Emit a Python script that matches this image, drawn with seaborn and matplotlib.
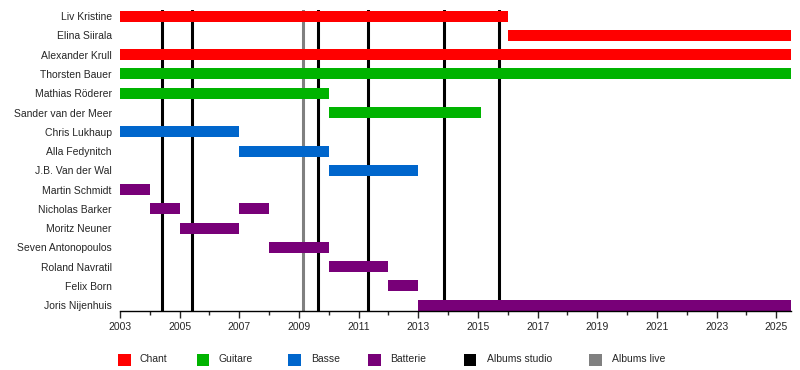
import matplotlib
matplotlib.use("Agg")
import matplotlib.pyplot as plt
import seaborn as sns
from matplotlib.patches import Rectangle

# Members in display order (top to bottom)
members = ["Liv Kristine", "Elina Siirala", "Alexander Krull", "Thorsten Bauer",
           "Mathias Röderer", "Sander van der Meer", "Chris Lukhaup", "Alla Fedynitch",
           "J.B. Van der Wal", "Martin Schmidt", "Nicholas Barker", "Moritz Neuner",
           "Seven Antonopoulos", "Roland Navratil", "Felix Born", "Joris Nijenhuis"]

# Membership periods (one entry per bar)
seg_member = ["Liv Kristine", "Elina Siirala", "Alexander Krull", "Thorsten Bauer",
              "Mathias Röderer", "Sander van der Meer", "Chris Lukhaup", "Alla Fedynitch",
              "J.B. Van der Wal", "Martin Schmidt", "Nicholas Barker", "Nicholas Barker",
              "Moritz Neuner", "Seven Antonopoulos", "Roland Navratil", "Felix Born",
              "Joris Nijenhuis"]
seg_start = [2003.0, 2016.0, 2003.0, 2003.0, 2003.0, 2010.0, 2003.0, 2007.0, 2010.0,
             2003.0, 2004.0, 2007.0, 2005.0, 2008.0, 2010.0, 2012.0, 2013.0]
seg_end = [2016.0, 2025.5, 2025.5, 2025.5, 2010.0, 2015.1, 2007.0, 2010.0, 2013.0,
           2004.0, 2005.0, 2008.0, 2007.0, 2010.0, 2012.0, 2013.0, 2025.5]
seg_role = ["Chant", "Chant", "Chant", "Guitare", "Guitare", "Guitare", "Basse", "Basse",
            "Basse", "Batterie", "Batterie", "Batterie", "Batterie", "Batterie", "Batterie",
            "Batterie", "Batterie"]

# Album releases
studio_albums = [2004.40, 2005.41, 2009.65, 2011.30, 2013.85, 2015.69]
live_albums = [2009.15]

role_colors = {"Chant": "#ff0000", "Guitare": "#00b300", "Basse": "#0066cc",
               "Batterie": "#780078"}

# Legend entries
legend_labels = ["Chant", "Guitare", "Basse", "Batterie", "Albums studio", "Albums live"]
legend_colors = ["#ff0000", "#00b300", "#0066cc", "#780078", "black", "#808080"]
legend_box_x = [118, 197, 288, 368, 464, 589]   # pixels
legend_text_x = [140, 218, 311, 390, 487, 612]

sns.set_style("white")
plt.rcParams["font.family"] = ["Liberation Sans", "DejaVu Sans"]

fig = plt.figure(figsize=(8, 3.7), dpi=100)
ax = fig.add_axes([0.15, 0.1595, 0.839, 0.8135])

ypos = [members.index(m) for m in seg_member]
widths = [e - s for s, e in zip(seg_start, seg_end)]
colors = [role_colors[r] for r in seg_role]
ax.barh(ypos, widths, left=seg_start, height=0.57, color=colors, linewidth=0, zorder=2)

for x in studio_albums:
    ax.axvline(x, color="black", lw=2.2, zorder=1)
for x in live_albums:
    ax.axvline(x, color="#808080", lw=2.2, zorder=1)

ax.set_xlim(2003, 2025.5)
ax.set_ylim(15.3, -0.32)
ax.set_yticks(range(len(members)))
ax.set_yticklabels(members, fontsize=7.5)
ax.set_xticks(range(2003, 2026, 2))
ax.set_xticks(range(2003, 2026), minor=True)
ax.tick_params(axis="x", which="major", length=5, width=1, direction="out",
               labelsize=7.5, pad=3, bottom=True)
ax.tick_params(axis="x", which="minor", length=3, width=1, direction="out", bottom=True)
ax.tick_params(axis="y", length=0, pad=6)

for side in ["top", "right", "left"]:
    ax.spines[side].set_visible(False)
ax.spines["bottom"].set_color("black")
ax.spines["bottom"].set_linewidth(1)

# Manual legend below the chart
W, H = 800, 370
for lab, col, bx, tx in zip(legend_labels, legend_colors, legend_box_x, legend_text_x):
    fig.patches.append(Rectangle((bx / W, 1 - 366 / H), 12.5 / W, 12.5 / H,
                                 transform=fig.transFigure, color=col, linewidth=0))
    fig.text(tx / W, 1 - 359.5 / H, lab, fontsize=7.5, va="center", ha="left")

fig.savefig("out.png", dpi=100)
